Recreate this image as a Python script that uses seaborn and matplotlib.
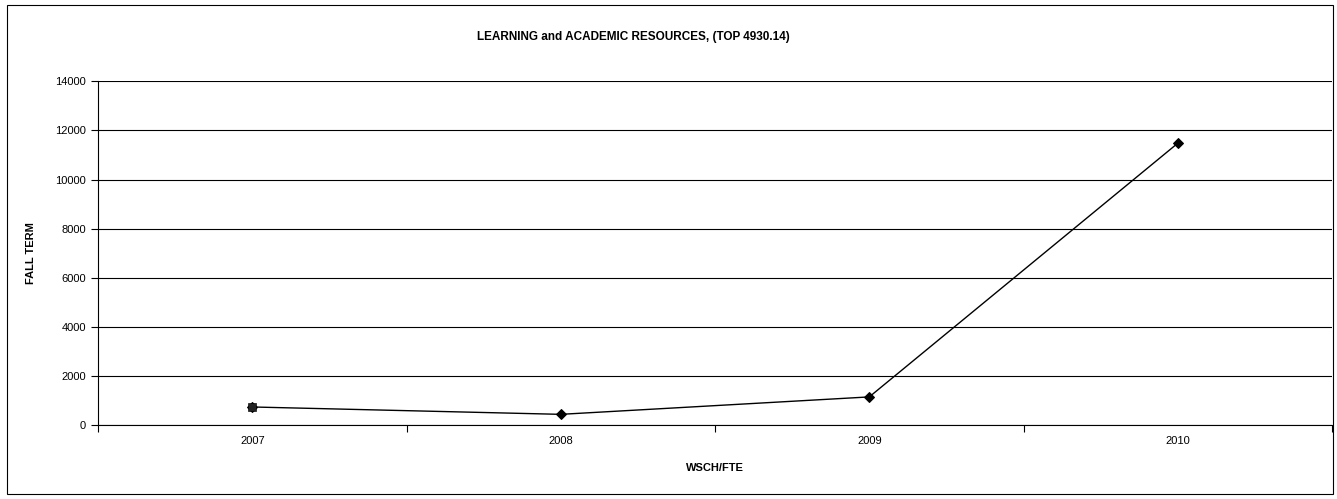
import matplotlib
matplotlib.use("Agg")
import matplotlib.pyplot as plt
import seaborn as sns
import pandas as pd
from matplotlib.patches import Rectangle

years = ["2007", "2008", "2009", "2010"]
values = [740, 440, 1150, 11480]
y_ticks = [0, 2000, 4000, 6000, 8000, 10000, 12000, 14000]

sns.set_theme(style="white")
plt.rcParams['font.family'] = ['Liberation Sans', 'DejaVu Sans']
plt.rcParams['text.color'] = 'black'
plt.rcParams['axes.labelcolor'] = 'black'
plt.rcParams['xtick.color'] = 'black'
plt.rcParams['ytick.color'] = 'black'

df = pd.DataFrame({"year": years, "value": values})
df["pos"] = range(len(years))

fig = plt.figure(figsize=(13.37, 4.99), dpi=100)
fig.patch.set_facecolor("white")
fig.add_artist(Rectangle((0.005, 0.01), 0.992, 0.98, transform=fig.transFigure,
                         fill=False, edgecolor="black", linewidth=0.8))
ax = fig.add_axes([0.0733, 0.148, 0.923, 0.689])

for t in y_ticks:
    ax.axhline(t, color="black", linewidth=0.8, zorder=1)

sns.lineplot(data=df, x="pos", y="value", ax=ax, color="black", linewidth=1.0,
             marker="D", markersize=5, markeredgecolor="black", zorder=3)
first = df.iloc[[0]]
sns.scatterplot(data=first, x="pos", y="value", ax=ax, marker="s", s=30,
                color="#222222", edgecolor="black", zorder=4)

ax.set_xlim(-0.5, len(years) - 0.5)
ax.set_ylim(0, 14000)
ax.set_yticks(y_ticks)
ax.set_yticklabels([str(t) for t in y_ticks], fontsize=8)
ax.set_xticks(df["pos"])
ax.set_xticklabels(years, fontsize=8)
ax.set_xticks([i - 0.5 for i in range(len(years) + 1)], minor=True)
ax.tick_params(axis="x", which="major", length=0, pad=8, bottom=True)
ax.tick_params(axis="x", which="minor", length=5, width=0.8, color="black",
               direction="out", bottom=True)
ax.tick_params(axis="y", length=5, width=0.8, color="black", direction="out", left=True)

for s in ["top", "right"]:
    ax.spines[s].set_visible(False)
for s in ["left", "bottom"]:
    ax.spines[s].set_color("black")
    ax.spines[s].set_linewidth(0.8)

ax.set_xlabel("WSCH/FTE", fontsize=8, fontweight="bold", labelpad=12, color="black")
ax.set_ylabel("FALL TERM", fontsize=8, fontweight="bold", labelpad=14, color="black")
fig.text(0.4735, 0.925, "LEARNING and ACADEMIC RESOURCES, (TOP 4930.14)",
         ha="center", va="center", fontsize=8.5, fontweight="bold", color="black")

fig.savefig("out.png", dpi=100)
